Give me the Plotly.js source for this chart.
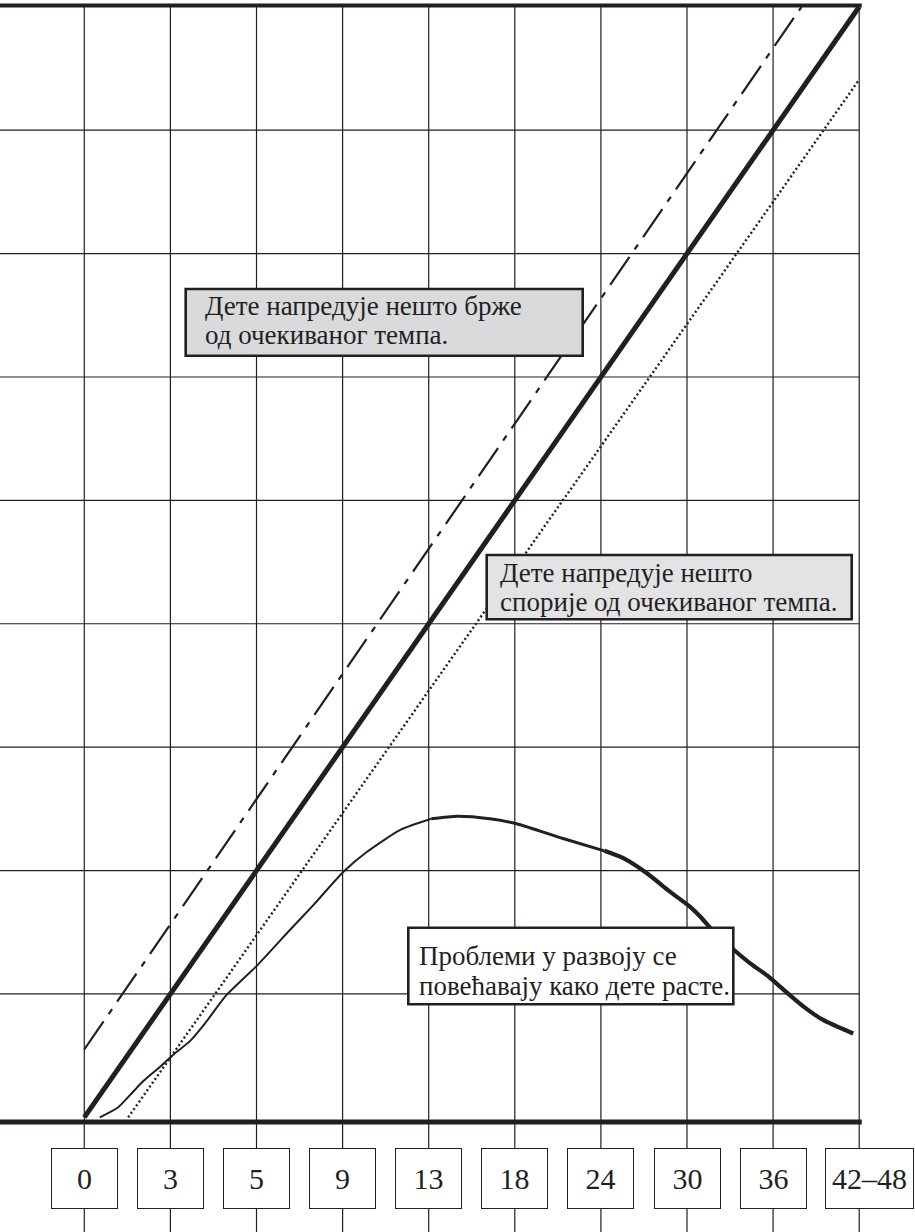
<!DOCTYPE html>
<html>
<head>
<meta charset="utf-8">
<script src="https://cdn.plot.ly/plotly-3.0.1.min.js"></script>
<style>
  html, body { margin: 0; padding: 0; background: #fff; }
  #chart { width: 915px; height: 1232px; }
</style>
</head>
<body>
<div id="chart"></div>
<script>
// age in months (category boxes along the bottom)
const ageLabels = ['0', '3', '5', '9', '13', '18', '24', '30', '36', '42–48'];
const levels = [1, 2, 3, 4, 5, 6, 7, 8];

// expected pace
const expectedX = [0, 9];
const expectedY = [0, 9];
// somewhat faster than expected
const fasterX = [0, 8.33];
const fasterY = [0.55, 9.0];
// somewhat slower than expected
const slowerX = [0.51, 9];
const slowerY = [0, 8.41];
// problems grow as the child grows
const problemX = [0.18, 0.39, 0.53, 0.68, 0.88, 1.02, 1.23, 1.40, 1.65, 2.02, 2.39, 2.66, 3.01, 3.28, 3.67,
                  4.03, 4.33, 4.71, 5.02, 5.56, 6.04, 6.26, 6.53, 6.80, 7.03, 7.15, 7.29, 7.54, 7.73, 7.93,
                  8.08, 8.35, 8.58, 8.93];
const problemY = [0, 0.08, 0.18, 0.29, 0.41, 0.50, 0.62, 0.76, 0.99, 1.24, 1.52, 1.72, 1.99, 2.15, 2.33,
                  2.42, 2.44, 2.42, 2.38, 2.26, 2.16, 2.10, 1.98, 1.83, 1.71, 1.63, 1.52, 1.36, 1.25, 1.15,
                  1.06, 0.90, 0.79, 0.68];

const ink = '#231f20';
const W = 915, H = 1232;
const PX = v => v / W;
const PY = v => 1 - v / H;

const xmin = -0.979, xmax = 9.648, ymin = -0.929, ymax = 9.055;
const topY = 9.011, baseY = -0.037;

function seg(from, to, width) {
  return {
    x: problemX.slice(from, to + 1),
    y: problemY.slice(from, to + 1),
    mode: 'lines', type: 'scatter', hoverinfo: 'skip',
    line: {color: ink, width: width, shape: 'spline', smoothing: 0.6}
  };
}

const data = [
  {x: fasterX, y: fasterY, mode: 'lines', type: 'scatter', hoverinfo: 'skip',
   line: {color: ink, width: 2.2, dash: '34px,9px,6px,9px'}},
  {x: slowerX, y: slowerY, mode: 'lines', type: 'scatter', hoverinfo: 'skip',
   line: {color: ink, width: 2.4, dash: '2px,2.6px'}},
  {x: expectedX, y: expectedY, mode: 'lines', type: 'scatter', hoverinfo: 'skip',
   line: {color: ink, width: 5}},
  seg(0, 15, 2),
  seg(15, 20, 3),
  seg(20, problemX.length - 1, 4.2)
];

const shapes = [];
ageLabels.forEach((_, i) => {
  shapes.push({type: 'line', layer: 'below', xref: 'x', yref: 'y',
    x0: i, x1: i, y0: topY, y1: ymin, line: {color: ink, width: 1.2}});
});
levels.forEach(v => {
  shapes.push({type: 'line', layer: 'below', xref: 'x', yref: 'y',
    x0: xmin, x1: 9, y0: v, y1: v, line: {color: ink, width: 1.2}});
});
shapes.push({type: 'line', layer: 'below', xref: 'x', yref: 'y',
  x0: xmin, x1: 9.03, y0: topY, y1: topY, line: {color: ink, width: 4}});
shapes.push({type: 'line', layer: 'above', xref: 'x', yref: 'y',
  x0: xmin, x1: 9.03, y0: baseY, y1: baseY, line: {color: ink, width: 5}});

// note boxes
const notes = [
  {box: [185.7, 289, 582.7, 355.7], fill: '#d9dadc', left: 203,
   lines: [['Дете напредује нешто брже', 314], ['од очекиваног темпа.', 343]]},
  {box: [486.7, 555, 851.7, 619.3], fill: '#e3e3e5', left: 498,
   lines: [['Дете напредује нешто', 581], ['спорије од очекиваног темпа.', 610]]},
  {box: [408.3, 927.7, 733.3, 1004.3], fill: '#ffffff', left: 416.5,
   lines: [['Проблеми у развоју се', 964], ['повећавају како дете расте.', 994]]}
];

const annotations = [];
notes.forEach(n => {
  shapes.push({type: 'rect', layer: 'above', xref: 'paper', yref: 'paper',
    x0: PX(n.box[0]), x1: PX(n.box[2]), y0: PY(n.box[1]), y1: PY(n.box[3]),
    fillcolor: n.fill, line: {color: ink, width: 2.6}});
  n.lines.forEach(([t, base]) => {
    annotations.push({text: t, xref: 'paper', yref: 'paper',
      x: PX(n.left), y: PY(base - 8), xanchor: 'left', yanchor: 'middle',
      showarrow: false, font: {family: 'Liberation Serif', size: 27, color: ink}});
  });
});

ageLabels.forEach((t, i) => {
  const last = i === ageLabels.length - 1;
  annotations.push({text: t, xref: 'x', yref: 'y', x: i, y: -0.495,
    xshift: last ? 10 : 0,
    showarrow: false, font: {family: 'Liberation Serif', size: 30, color: ink},
    bgcolor: '#ffffff', bordercolor: ink, borderwidth: 1, borderpad: 0,
    width: last ? 87 : 65, height: 59});
});

const layout = {
  width: W, height: H,
  margin: {l: 0, r: 0, t: 0, b: 0},
  paper_bgcolor: '#ffffff',
  plot_bgcolor: '#ffffff',
  showlegend: false,
  xaxis: {range: [xmin, xmax], visible: false, showgrid: false, zeroline: false, fixedrange: true},
  yaxis: {range: [ymin, ymax], visible: false, showgrid: false, zeroline: false, fixedrange: true},
  shapes: shapes,
  annotations: annotations
};

Plotly.newPlot('chart', data, layout, {displayModeBar: false, staticPlot: true});
</script>
</body>
</html>
